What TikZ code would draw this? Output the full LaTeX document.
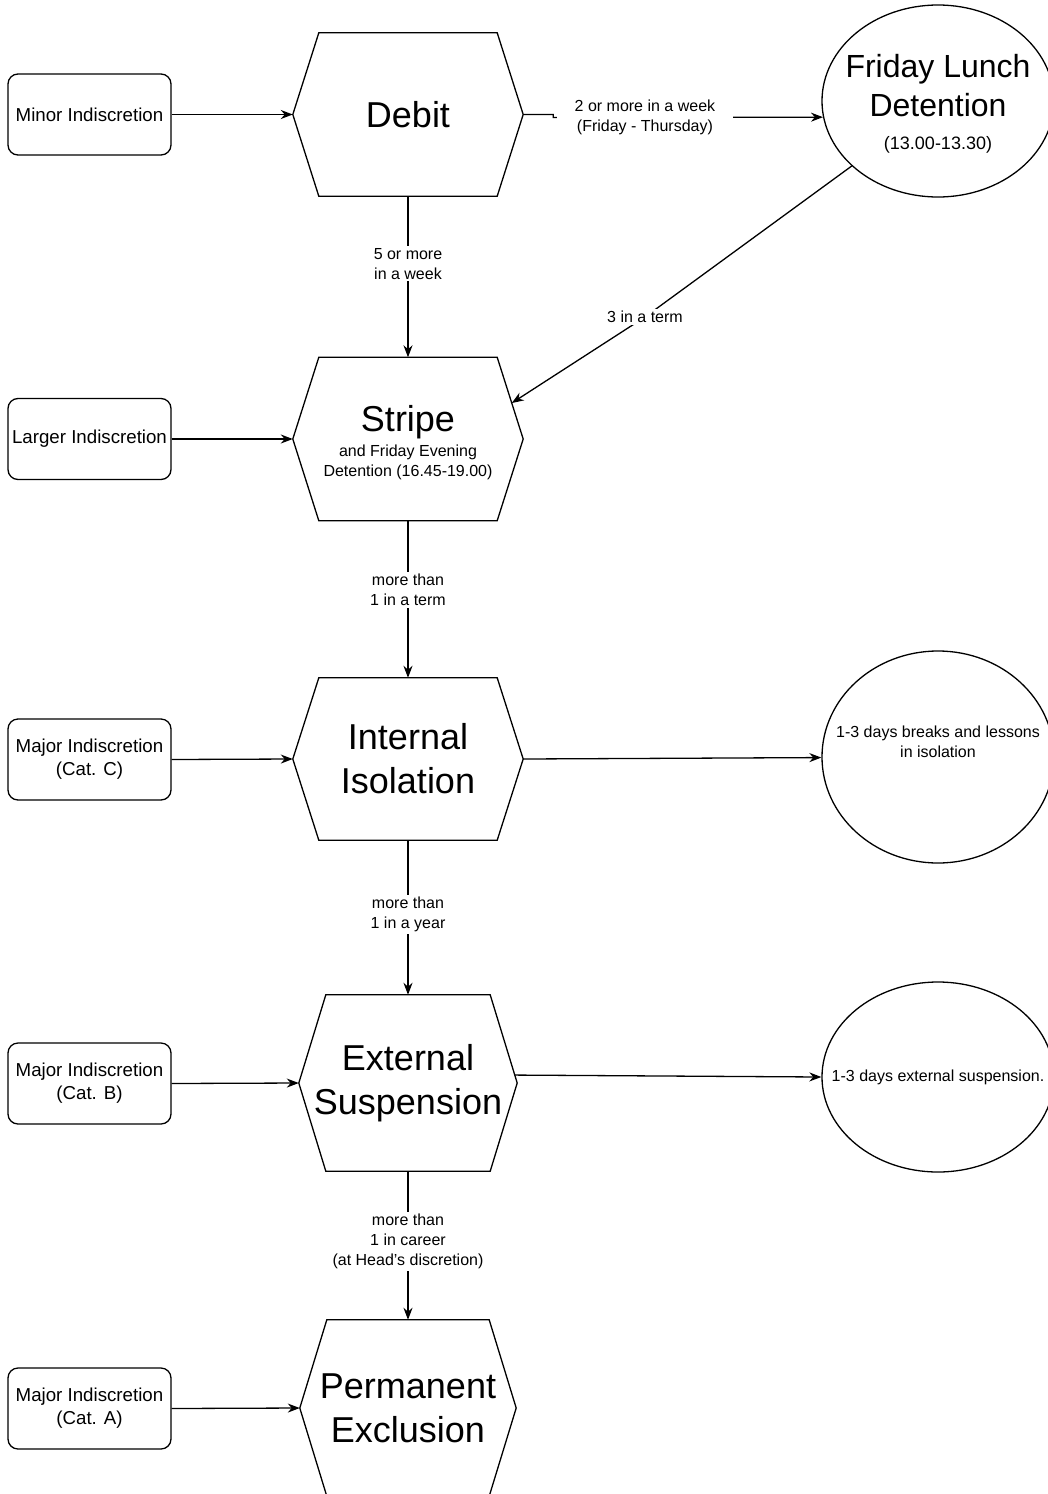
\documentclass[tikz,border=0pt]{standalone}
\usepackage{fontspec}
\setmainfont{Liberation Sans}
\usetikzlibrary{shapes.geometric,arrows.meta,calc}
\newcommand\hexdraw[2]{%
  \coordinate (#1-nw) at ($(#1.north west)+(#2,0)$);
  \coordinate (#1-ne) at ($(#1.north east)+(-#2,0)$);
  \coordinate (#1-se) at ($(#1.south east)+(-#2,0)$);
  \coordinate (#1-sw) at ($(#1.south west)+(#2,0)$);
  \draw[hexline] (#1.west) -- (#1-nw) -- (#1-ne) -- (#1.east) -- (#1-se) -- (#1-sw) -- cycle;}
\begin{document}
\begin{tikzpicture}[x=1pt,y=-1pt,
  box/.style={draw, rounded corners=10pt, line width=1.3pt, minimum width=163pt, minimum height=81pt, inner sep=0pt, align=center, font=\fontsize{18.7}{23}\selectfont},
  hexnode/.style={inner sep=0pt, align=center, font=\fontsize{36}{44}\selectfont},
  hexline/.style={line width=1.3pt, line join=miter},
  ell/.style={draw, ellipse, line width=1.3pt, inner sep=0pt},
  arr/.style={line width=1.3pt, -{Stealth[length=12pt,width=9pt]}},
  lbl/.style={fill=white, inner sep=2pt, align=center, font=\fontsize{16}{20}\selectfont}]
\useasboundingbox (0,0) rectangle (1048,1494);
\clip (0,0) rectangle (1048,1494);
\fill[white] (0,0) rectangle (1048,1494);

% left boxes
\node[box] (minor) at (89.5,114.5) {Minor Indiscretion};
\node[box] (larger) at (89.5,439) {Larger Indiscretion};
\node[box] (majc) at (89.5,759.5) {Major Indiscretion\\(Cat. C)};
\node[box] (majb) at (89.5,1083.5) {Major Indiscretion\\(Cat. B)};
\node[box] (maja) at (89.5,1408.5) {Major Indiscretion\\(Cat. A)};

% hexagons
\node[hexnode, minimum width=230pt, minimum height=163pt] (debit) at (408,114.5) {Debit};
\node[hexnode, minimum width=230pt, minimum height=163pt,
  label={[name=stripetext, yshift=-4pt, align=center, font=\fontsize{16}{20}\selectfont]center:{\fontsize{36}{44}\selectfont Stripe}\\[5pt]and Friday Evening\\Detention (16.45-19.00)}] (stripe) at (408,439) {};
\node[hexnode, minimum width=230pt, minimum height=162pt] (internal) at (408,759) {Internal\\Isolation};
\node[hexnode, minimum width=218pt, minimum height=176pt] (external) at (408,1083) {External\\Suspension};
\node[hexnode, minimum width=216pt, minimum height=176pt] (perm) at (408,1408) {Permanent\\Exclusion};
\hexdraw{debit}{26}
\hexdraw{stripe}{26}
\hexdraw{internal}{26}
\hexdraw{external}{27}
\hexdraw{perm}{27}

% ellipses
\node[ell, minimum width=232pt, minimum height=192pt,
  label={[name=fritext, yshift=-3pt, align=center, font=\fontsize{32}{39}\selectfont]center:Friday Lunch\\Detention\\[-6pt]{\fontsize{18}{22}\selectfont (13.00-13.30)}}] (fri) at (938,101) {};
\node[ell, minimum width=232pt, minimum height=212pt,
  label={[name=isotext, yshift=15pt, align=center, font=\fontsize{16}{20}\selectfont]center:1-3 days breaks and lessons\\in isolation}] (iso) at (938,757) {};
\node[ell, minimum width=232pt, minimum height=190pt,
  label={[name=exttext, font=\fontsize{16}{20}\selectfont]center:1-3 days external suspension.}] (extend) at (938,1077) {};

\coordinate (stripein) at ($(stripe-ne)!0.56!(stripe.east)$);
\coordinate (termpt) at (645,317);
\coordinate (extout) at ($(external-ne)!0.91!(external.east)$);

% connectors
\draw[arr] (minor.east) -- (debit.west);
\draw[arr] (larger.east) -- (stripe.west);
\draw[arr] (majc.east) -- (internal.west);
\draw[arr] (majb.east) -- (external.west);
\draw[arr] (maja.east) -- (perm.west);

\draw[arr] (debit.east) -- ++(30,0) -- ++(0,3) -- (fri.188)
  node[lbl, pos=0.34, inner xsep=18pt] {2 or more in a week\\(Friday - Thursday)};
\draw[arr] (fri.217) -- (termpt) -- (stripein);
\node[lbl] (termlbl) at (termpt) {3 in a term};

\draw[arr] (debit.south) -- (stripe.north) node[lbl, pos=0.42] {5 or more\\in a week};
\draw[arr] (stripe.south) -- (internal.north) node[lbl, pos=0.44] {more than\\1 in a term};
\draw[arr] (internal.south) -- (external.north) node[lbl, pos=0.48] {more than\\1 in a year};
\draw[arr] (external.south) -- (perm.north) node[lbl, pos=0.47] {more than\\1 in career\\(at Head's discretion)};

\draw[arr] (internal.east) -- (iso);
\draw[arr] (extout) -- (extend.west);
\end{tikzpicture}
\end{document}
